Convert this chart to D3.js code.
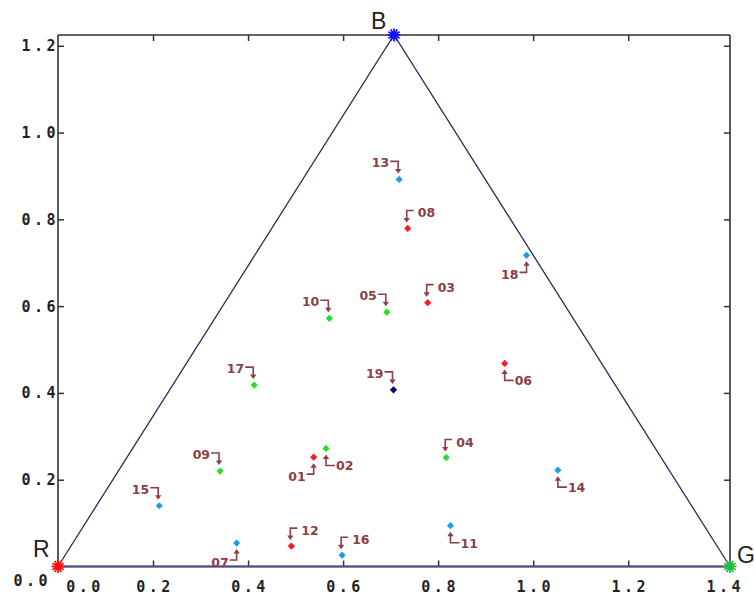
<!DOCTYPE html>
<html>
<head>
<meta charset="utf-8">
<script src="https://cdn.jsdelivr.net/npm/d3@7"></script>
<style>
  html, body { margin: 0; padding: 0; background: #ffffff; }
  svg { display: block; }
</style>
</head>
<body>
<svg id="chart" width="754" height="596"></svg>
<script>
// ---- data ----
const pointLabels = ["01","02","03","04","05","06","07","08","09","10","11","12","13","14","15","16","17","18","19"];
const pointX = [0.538,0.564,0.778,0.817,0.692,0.940,0.376,0.736,0.341,0.571,0.826,0.491,0.718,1.052,0.213,0.598,0.413,0.986,0.706];
const pointY = [0.252,0.272,0.608,0.251,0.586,0.468,0.054,0.779,0.220,0.572,0.094,0.047,0.892,0.222,0.140,0.026,0.418,0.717,0.407];
const pointGroup = ["red","green","red","green","green","red","cyan","red","green","green","cyan","red","cyan","cyan","cyan","cyan","green","cyan","navy"];
const labelSide = ["ll","lr","ur","ur","ul","lr","ll","ur","ul","ul","lr","ur","ul","lr","ul","ur","ul","ll","ul"];
const vertexNames = ["R","G","B"];
const vertexX = [0, Math.SQRT2, Math.SQRT2 / 2];
const vertexY = [0, 0, Math.sqrt(1.5)];
const xTickValues = [0.0,0.2,0.4,0.6,0.8,1.0,1.2,1.4];
const xTickLabels = ["0.0","0.2","0.4","0.6","0.8","1.0","1.2","1.4"];
const yTickValues = [0.0,0.2,0.4,0.6,0.8,1.0,1.2];
const yTickLabels = ["0.0","0.2","0.4","0.6","0.8","1.0","1.2"];

// ---- styles ----
const groupColor = { red: "#ff1a1a", green: "#22e022", cyan: "#1b9ee8", navy: "#000080" };
const vertexColor = { R: "#ff1010", G: "#22bb44", B: "#1010ff" };
const annColor = "#8b4048";

const svg = d3.select("#chart");
const x = d3.scaleLinear().domain([0, Math.SQRT2]).range([58, 730]);
const y = d3.scaleLinear().domain([0, Math.sqrt(1.5)]).range([566.5, 35]);
const [x0, x1] = x.range();
const [y0, y1] = y.range();

// frame: left, top, right in dark grey; bottom in purple-navy
svg.append("line").attr("x1", x0).attr("x2", x0).attr("y1", y1).attr("y2", y0)
  .attr("stroke", "#333").attr("stroke-width", 1.6);
svg.append("line").attr("x1", x0).attr("x2", x1).attr("y1", y1).attr("y2", y1)
  .attr("stroke", "#333").attr("stroke-width", 1.6);
svg.append("line").attr("x1", x1).attr("x2", x1).attr("y1", y1).attr("y2", y0)
  .attr("stroke", "#333").attr("stroke-width", 1.6);

// inward ticks via d3 axes
const innerX = xTickValues.filter(v => v > 0 && v < 1.3);
const innerY = yTickValues.filter(v => v > 0);
const axB = svg.append("g").attr("transform", `translate(0,${y0})`)
  .call(d3.axisBottom(x).tickValues(innerX).tickSizeInner(-6).tickSizeOuter(0).tickFormat(""));
const axT = svg.append("g").attr("transform", `translate(0,${y1})`)
  .call(d3.axisTop(x).tickValues(innerX).tickSizeInner(-6).tickSizeOuter(0).tickFormat(""));
const axL = svg.append("g").attr("transform", `translate(${x0},0)`)
  .call(d3.axisLeft(y).tickValues(innerY).tickSizeInner(-6).tickSizeOuter(0).tickFormat(""));
const axR = svg.append("g").attr("transform", `translate(${x1},0)`)
  .call(d3.axisRight(y).tickValues(innerY).tickSizeInner(-6).tickSizeOuter(0).tickFormat(""));
[axB, axT, axL, axR].forEach(g => {
  g.select(".domain").remove();
  g.selectAll(".tick line").attr("stroke", "#333").attr("stroke-width", 1.5);
});

// tick labels
const tickFont = "'DejaVu Sans Mono', monospace";
svg.append("g").selectAll("text").data(xTickValues).join("text")
  .attr("x", (d, i) => (i === 0 ? x(d) + 25 : x(d)) + 2)
  .attr("y", 592)
  .attr("text-anchor", "middle")
  .attr("font-family", tickFont).attr("font-weight", "bold").attr("font-size", 15)
  .attr("letter-spacing", 3.5).attr("fill", "#222")
  .text((d, i) => xTickLabels[i]);
svg.append("g").selectAll("text").data(yTickValues).join("text")
  .attr("x", (d, i) => i === 0 ? 51 : 59)
  .attr("y", (d, i) => i === 0 ? 586 : y(d) + 5.5)
  .attr("text-anchor", "end")
  .attr("font-family", tickFont).attr("font-weight", "bold").attr("font-size", 15)
  .attr("letter-spacing", 3.5).attr("fill", "#222")
  .text((d, i) => yTickLabels[i]);

// triangle
const tri = vertexNames.map((n, i) => [x(vertexX[i]), y(vertexY[i])]);
svg.append("path")
  .attr("d", d3.line()(tri.concat([tri[0]])))
  .attr("fill", "none").attr("stroke", "#2c2c58").attr("stroke-width", 1.3);
// bottom axis line (over the triangle base)
svg.append("line").attr("x1", x0).attr("x2", x1).attr("y1", y0).attr("y2", y0)
  .attr("stroke", "#4c4c86").attr("stroke-width", 2.2);

// data points
const pts = pointLabels.map((l, i) => ({
  label: l, px: x(pointX[i]), py: y(pointY[i]), c: groupColor[pointGroup[i]], side: labelSide[i]
}));
svg.append("g").selectAll("path").data(pts).join("path")
  .attr("transform", d => `translate(${d.px},${d.py}) rotate(45)`)
  .attr("d", d3.symbol(d3.symbolSquare, 26)())
  .attr("fill", d => d.c);

// annotation arrows + labels
const annFont = "'DejaVu Sans', Verdana, sans-serif";
const ann = svg.append("g");
function head(xh, yh, dir) {
  const s = dir === "down" ? -1 : 1;
  return `M${xh},${yh} L${xh - 3.2},${yh + s * 4.5} L${xh + 3.2},${yh + s * 4.5} Z`;
}
pts.forEach(d => {
  const { px, py } = d;
  let path, hd, tx, ty, anchor;
  if (d.side === "ul") {
    path = `M${px - 9},${py - 18} H${px - 1} V${py - 9}`;
    hd = head(px - 1, py - 6, "down");
    tx = px - 10; ty = py - 12; anchor = "end";
  } else if (d.side === "ur") {
    path = `M${px + 6},${py - 18} H${px - 1} V${py - 9}`;
    hd = head(px - 1, py - 6, "down");
    tx = px + 10; ty = py - 11; anchor = "start";
  } else if (d.side === "lr") {
    path = `M${px},${py + 9} V${py + 17} H${px + 9}`;
    hd = head(px, py + 6, "up");
    tx = px + 10; ty = py + 22; anchor = "start";
  } else {
    path = `M${px - 7},${py + 17} H${px} V${py + 9}`;
    hd = head(px, py + 6, "up");
    tx = px - 8; ty = py + 24; anchor = "end";
  }
  ann.append("path").attr("d", path).attr("fill", "none")
    .attr("stroke", annColor).attr("stroke-width", 1.6);
  ann.append("path").attr("d", hd).attr("fill", annColor);
  ann.append("text").attr("x", tx).attr("y", ty).attr("text-anchor", anchor)
    .attr("font-family", annFont).attr("font-weight", "bold").attr("font-size", 12.5)
    .attr("fill", annColor).text(d.label);
});

// vertex stars
const star = svg.append("g");
vertexNames.forEach((n, i) => {
  const [cx, cy] = tri[i];
  const g = star.append("g").attr("transform", `translate(${cx},${cy})`);
  d3.range(12).forEach(k => {
    const a = k * Math.PI / 6;
    g.append("line").attr("x1", 0).attr("y1", 0)
      .attr("x2", 6.5 * Math.cos(a)).attr("y2", 6.5 * Math.sin(a))
      .attr("stroke", vertexColor[n]).attr("stroke-width", 1.8);
  });
  g.append("circle").attr("r", 3.6).attr("fill", vertexColor[n]);
});

// vertex labels
const vlabelPos = { R: [33, 557], G: [737, 563], B: [371, 29] };
svg.append("g").selectAll("text").data(vertexNames).join("text")
  .attr("x", d => vlabelPos[d][0]).attr("y", d => vlabelPos[d][1])
  .attr("font-family", "'Liberation Sans', Arial, sans-serif").attr("font-size", 23)
  .attr("fill", "#222").text(d => d);
</script>
</body>
</html>
